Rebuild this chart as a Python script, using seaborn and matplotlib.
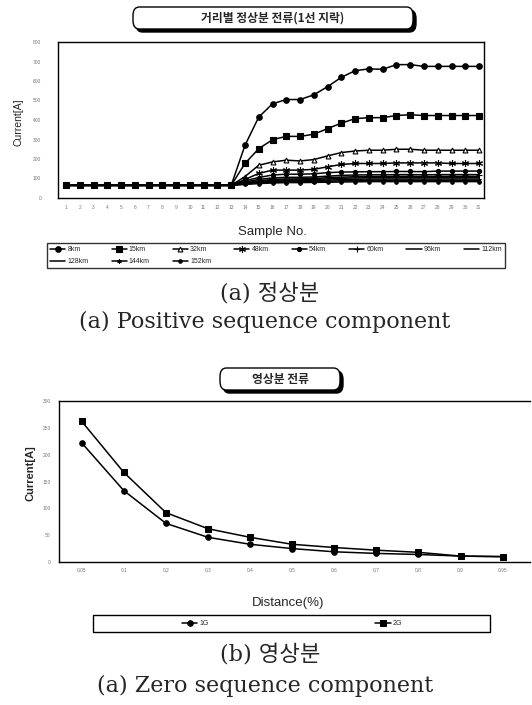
import numpy as np
import pandas as pd
import matplotlib
matplotlib.use("Agg")
import matplotlib.pyplot as plt
import seaborn as sns
from matplotlib.patches import FancyBboxPatch, Rectangle

# ---------------- data ----------------
samples = list(range(1, 32))
base = [65] * 13
dist_labels = ["8km", "15km", "32km", "48km", "54km", "60km", "96km",
               "112km", "128km", "144km", "152km"]
s8 = base + [270, 415, 483, 505, 505, 529, 571, 619, 653, 662, 660, 684, 684, 675, 675, 675, 675, 675]
s15 = base + [177, 253, 299, 316, 316, 327, 356, 384, 407, 412, 412, 423, 427, 423, 423, 423, 423, 423]
s32 = base + [110, 168, 185, 194, 190, 197, 216, 233, 241, 245, 245, 250, 250, 245, 245, 245, 245, 245]
s48 = base + [95, 126, 143, 143, 143, 147, 160, 172, 177, 177, 177, 180, 180, 180, 180, 177, 177, 177]
s54 = base + [88, 105, 118, 122, 122, 124, 130, 133, 134, 135, 135, 136, 136, 135, 138, 138, 138, 138]
s60 = base + [82, 95, 103, 106, 106, 108, 112, 116, 118, 119, 119, 120, 120, 119, 120, 120, 120, 120]
s96 = base + [78, 88, 95, 98, 98, 100, 104, 107, 109, 110, 110, 111, 111, 110, 111, 111, 111, 111]
s112 = base + [76, 84, 90, 93, 93, 95, 98, 101, 103, 104, 104, 104, 104, 104, 104, 104, 104, 104]
s128 = base + [74, 80, 85, 88, 88, 89, 92, 94, 96, 97, 97, 97, 97, 97, 97, 97, 97, 97]
s144 = base + [72, 77, 81, 83, 83, 84, 86, 88, 89, 90, 90, 90, 90, 90, 90, 90, 90, 90]
s152 = base + [70, 74, 77, 79, 79, 80, 81, 82, 83, 84, 84, 84, 84, 84, 84, 84, 84, 84]
pos_series = [s8, s15, s32, s48, s54, s60, s96, s112, s128, s144, s152]

distance_labels = ["0.05", "0.1", "0.2", "0.3", "0.4", "0.5", "0.6", "0.7", "0.8", "0.9", "0.95"]
zero_1G = [222, 133, 72, 46, 33, 25, 19, 16, 14, 11, 10]
zero_2G = [262, 167, 92, 62, 46, 33, 27, 22, 18, 11, 10]

# ---------------- styling ----------------
sns.set_theme(style="white")
plt.rcParams['font.family'] = ['Liberation Sans', 'Noto Sans CJK KR', 'DejaVu Sans']

W, H = 532, 705
fig = plt.figure(figsize=(W / 100, H / 100), dpi=100)
fig.patch.set_facecolor("white")


def fx(x):
    return x / W


def fy(y):
    return 1 - y / H


def ax_rect(l, t, r, b):
    return [fx(l), fy(b), fx(r) - fx(l), fy(t) - fy(b)]


def title_box(l, t, r, b, text, fs):
    sh = FancyBboxPatch((fx(l + 3), fy(b + 3)), fx(r) - fx(l), fy(t) - fy(b),
                        boxstyle="round,pad=0,rounding_size=0.012",
                        transform=fig.transFigure, facecolor="black",
                        edgecolor="black", lw=1)
    bx = FancyBboxPatch((fx(l), fy(b)), fx(r) - fx(l), fy(t) - fy(b),
                        boxstyle="round,pad=0,rounding_size=0.012",
                        transform=fig.transFigure, facecolor="white",
                        edgecolor="black", lw=1)
    fig.patches.extend([sh, bx])
    fig.text(fx((l + r) / 2), fy((t + b) / 2), text, ha="center", va="center",
             fontsize=fs, fontweight="bold",
             family=['Noto Sans CJK KR', 'DejaVu Sans'])


line_kw = dict(color="black", linewidth=1.1)
markers = [
    dict(marker="o", markersize=4, markerfacecolor="black"),
    dict(marker="s", markersize=4, markerfacecolor="black"),
    dict(marker="^", markersize=3.5, markerfacecolor="white"),
    dict(marker=(6, 2, 0), markersize=5, markerfacecolor="black"),
    dict(marker="o", markersize=3, markerfacecolor="black"),
    dict(marker="+", markersize=4, markerfacecolor="black"),
    dict(marker=None),
    dict(marker=None),
    dict(marker=None),
    dict(marker=(6, 2, 0), markersize=3, markerfacecolor="black"),
    dict(marker="o", markersize=2.5, markerfacecolor="black"),
]

# ---------------- top chart ----------------
title_box(133, 7, 413, 29, "거리별 정상분 전류(1선 지락)", 8.5)

ax1 = fig.add_axes(ax_rect(58, 42, 484, 198))
for name, vals, mk in zip(dist_labels, pos_series, markers):
    sns.lineplot(x=samples, y=vals, ax=ax1, label=name,
                 markeredgecolor="black", markeredgewidth=0.8, **mk, **line_kw)
handles, labels = ax1.get_legend_handles_labels()
if ax1.get_legend() is not None:
    ax1.get_legend().remove()

ax1.set_xlim(0.42, 31.36)
ax1.set_ylim(0, 800)
ax1.set_xticks(samples)
ax1.set_xticklabels([str(s) for s in samples])
ax1.set_yticks(range(0, 801, 100))
ax1.tick_params(axis="both", length=0, labelsize=3.5, labelcolor="#777777")
ax1.tick_params(axis="y", pad=12)
ax1.tick_params(axis="x", pad=5)
for sp in ax1.spines.values():
    sp.set_color("black")
    sp.set_linewidth(1.0)
ax1.set_xlabel("")
ax1.set_ylabel("")
fig.text(fx(272), fy(232), "Sample No.", ha="center", va="center", fontsize=9.5)
fig.text(fx(19), fy(122), "Current[A]", ha="center", va="center",
         rotation=90, fontsize=7.5)

# reorder so the legend reads row by row (8 per row)
order = [0, 8, 1, 9, 2, 10, 3, 4, 5, 6, 7]
leg1 = fig.legend([handles[i] for i in order], [labels[i] for i in order],
                  loc="upper left",
                  bbox_to_anchor=(fx(47), fy(268), fx(505) - fx(47), fy(243) - fy(268)),
                  mode="expand", ncol=8, fontsize=5, frameon=True, fancybox=False,
                  handlelength=2.2, handletextpad=0.3, borderpad=0.45,
                  labelspacing=0.75, borderaxespad=0, columnspacing=0.5)
leg1.get_frame().set_edgecolor("black")
leg1.get_frame().set_linewidth(1.0)

cap_fam = ['DejaVu Serif', 'Noto Sans CJK KR']
fig.text(fx(270), fy(294), "(a) 정상분", ha="center", va="center", fontsize=16,
         family=cap_fam)
fig.text(fx(265), fy(322), "(a) Positive sequence component", ha="center",
         va="center", fontsize=16, family=cap_fam)

# ---------------- bottom chart ----------------
title_box(220, 368, 340, 390, "영상분 전류", 8.5)

ax2 = fig.add_axes(ax_rect(59, 401, 530, 562))
xi = list(range(len(distance_labels)))
sns.lineplot(x=xi, y=zero_1G, ax=ax2, label="1G", marker="o", markersize=4,
             markerfacecolor="black", markeredgecolor="black", **line_kw)
sns.lineplot(x=xi, y=zero_2G, ax=ax2, label="2G", marker="s", markersize=4,
             markerfacecolor="black", markeredgecolor="black", **line_kw)
h2, l2 = ax2.get_legend_handles_labels()
if ax2.get_legend() is not None:
    ax2.get_legend().remove()
ax2.set_xlim(-0.54, 10.65)
ax2.set_ylim(0, 300)
ax2.set_xticks(xi)
ax2.set_xticklabels(distance_labels)
ax2.set_yticks(range(0, 301, 50))
ax2.tick_params(axis="both", length=0, labelsize=3.5, labelcolor="#777777")
ax2.tick_params(axis="y", pad=6)
ax2.tick_params(axis="x", pad=4)
for sp in ax2.spines.values():
    sp.set_color("black")
    sp.set_linewidth(1.0)
ax2.spines["right"].set_visible(False)
ax2.set_xlabel("")
ax2.set_ylabel("")
fig.text(fx(288), fy(603), "Distance(%)", ha="center", va="center", fontsize=9.5)
fig.text(fx(30), fy(473), "Current[A]", ha="center", va="center",
         rotation=90, fontsize=8, fontweight="bold")

frame2 = Rectangle((fx(93), fy(632)), fx(490) - fx(93), fy(615) - fy(632),
                   transform=fig.transFigure, facecolor="none",
                   edgecolor="black", lw=1.0)
fig.patches.append(frame2)
fig.legend(h2, l2, loc="center", bbox_to_anchor=(fx(292), fy(623.5)),
           ncol=2, fontsize=5, frameon=False, handlelength=2.2,
           handletextpad=0.3, columnspacing=24)

fig.text(fx(270), fy(654), "(b) 영상분", ha="center", va="center", fontsize=16,
         family=cap_fam)
fig.text(fx(265), fy(686), "(a) Zero sequence component", ha="center",
         va="center", fontsize=16, family=cap_fam)

fig.savefig("out.png", dpi=100, facecolor="white")
